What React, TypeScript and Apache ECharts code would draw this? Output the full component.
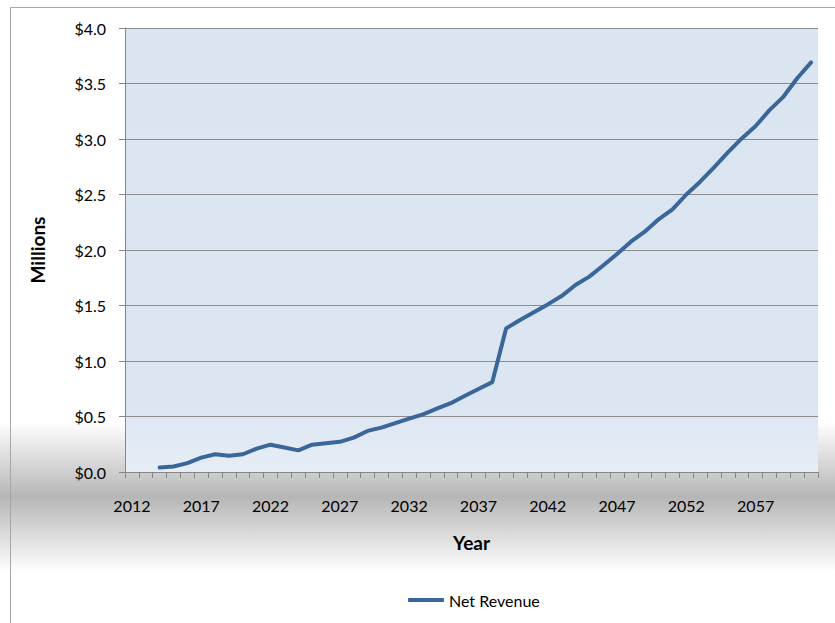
import React, { useEffect, useRef } from "react";
import * as echarts from "echarts";

const years: string[] = [];
for (let y = 2012; y <= 2061; y++) years.push(String(y));

const netRevenue: (number | null)[] = [
  null, null, 0.04, 0.05, 0.08, 0.13, 0.16, 0.147, 0.16, 0.21,
  0.246, 0.22, 0.195, 0.246, 0.258, 0.272, 0.31, 0.37, 0.40, 0.44,
  0.48, 0.52, 0.57, 0.62, 0.685, 0.748, 0.81, 1.294, 1.37, 1.44,
  1.51, 1.585, 1.685, 1.76, 1.86, 1.964, 2.075, 2.165, 2.277, 2.367,
  2.50, 2.615, 2.745, 2.88, 3.005, 3.117, 3.26, 3.38, 3.547, 3.69,
];

const yTicks = { min: 0, max: 4, interval: 0.5 };

const FONT = "Lato, 'Noto Sans', sans-serif";

export default function App() {
  const ref = useRef<HTMLDivElement>(null);
  useEffect(() => {
    if (!ref.current) return;
    const chart = echarts.init(ref.current, null, { renderer: "svg" });
    chart.setOption({
      animation: false,
      backgroundColor: "#ffffff",
      textStyle: { fontFamily: FONT },
      graphic: [
        {
          type: "rect",
          z: -10,
          silent: true,
          shape: { x: 0, y: 422, width: 835, height: 150 },
          style: {
            fill: new echarts.graphic.LinearGradient(0, 0, 0, 1, [
              { offset: 0, color: "#ffffff" },
              { offset: 0.5, color: "#b6b6b6" },
              { offset: 1, color: "#ffffff" },
            ]),
          },
        },
        {
          type: "polyline",
          z: -5,
          silent: true,
          shape: { points: [[10.5, 623], [10.5, 7.5], [835, 7.5]] },
          style: { stroke: "#a6a6a6", lineWidth: 1, fill: "none" },
        },
      ],
      grid: {
        left: 125,
        right: 17,
        top: 28,
        bottom: 151,
        show: true,
        borderWidth: 0,
        backgroundColor: new echarts.graphic.LinearGradient(0, 0, 0, 1, [
          { offset: 0, color: "#dbe5f1" },
          { offset: 0.85, color: "#dce6f2" },
          { offset: 1, color: "#e6edf6" },
        ]),
      },
      legend: {
        left: 403,
        top: 587,
        itemWidth: 36,
        itemHeight: 4,
        itemGap: 10,
        icon: "roundRect",
        textStyle: { fontFamily: FONT, fontSize: 16, color: "#000" },
        data: ["Net Revenue"],
      },
      xAxis: {
        type: "category",
        data: years,
        boundaryGap: true,
        name: "Year",
        nameLocation: "middle",
        nameGap: 61,
        nameTextStyle: { fontFamily: FONT, fontSize: 19, fontWeight: "bold", color: "#000" },
        axisLine: { show: true, lineStyle: { color: "#868686", width: 1 } },
        axisTick: { show: true, interval: 0, length: 6, lineStyle: { color: "#868686" } },
        axisLabel: { interval: 4, fontSize: 16, color: "#000", margin: 25, fontFamily: FONT },
        splitLine: { show: false },
      },
      yAxis: {
        type: "value",
        min: yTicks.min,
        max: yTicks.max,
        interval: yTicks.interval,
        name: "Millions",
        nameLocation: "middle",
        nameGap: 78,
        nameRotate: 90,
        nameTextStyle: { fontFamily: FONT, fontSize: 19, fontWeight: "bold", color: "#000" },
        axisLine: { show: true, lineStyle: { color: "#868686", width: 1 } },
        axisTick: { show: true, length: 6, lineStyle: { color: "#868686" } },
        axisLabel: {
          fontSize: 16,
          color: "#000",
          margin: 19,
          fontFamily: FONT,
          formatter: (v: number) => "$" + v.toFixed(1),
        },
        splitLine: { show: true, lineStyle: { color: "#8c8c8c", width: 1 } },
      },
      series: [
        {
          name: "Net Revenue",
          type: "line",
          data: netRevenue,
          showSymbol: false,
          symbol: "none",
          connectNulls: false,
          lineStyle: { color: "#3a6699", width: 4, cap: "round", join: "round" },
          itemStyle: { color: "#3a6699" },
        },
      ],
    });
    return () => chart.dispose();
  }, []);
  return (
    <div
      ref={ref}
      style={{ position: "fixed", left: 0, top: 0, width: 835, height: 623 }}
    />
  );
}
